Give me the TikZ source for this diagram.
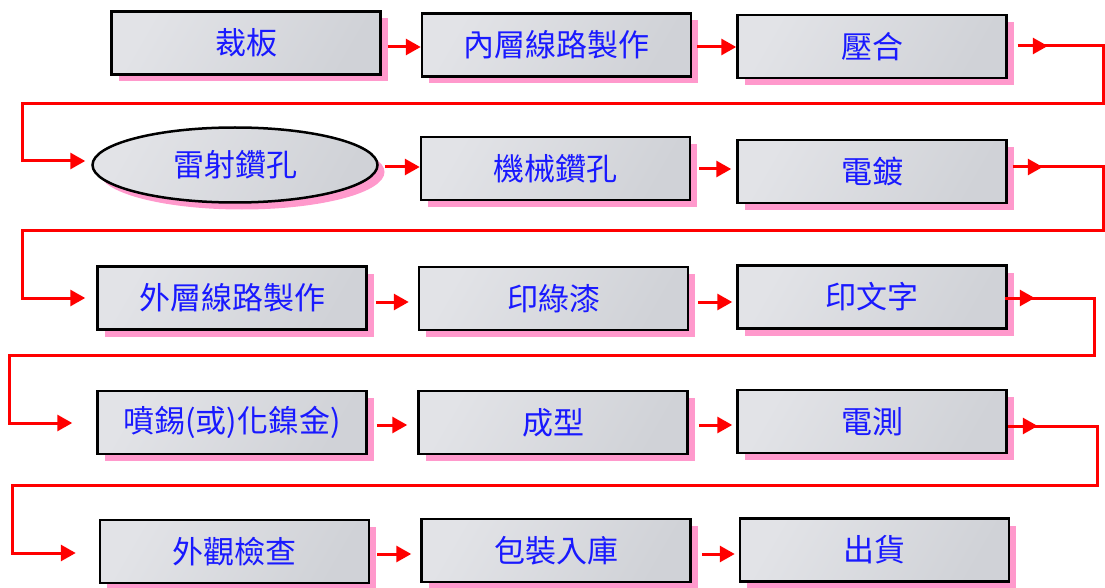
\documentclass[tikz,border=0pt]{standalone}
\usepackage{fontspec}
\newfontfamily\cjk{Noto Sans CJK TC}
\usetikzlibrary{shapes.geometric,shadows,arrows.meta,calc}
\definecolor{marbleD}{RGB}{208,210,215}
\definecolor{marbleL}{RGB}{226,227,231}
\definecolor{shadowpink}{RGB}{255,153,204}
\definecolor{txtblue}{RGB}{25,25,255}
\definecolor{linered}{RGB}{255,0,0}
\begin{document}
\begin{tikzpicture}[x=1pt,y=-1pt,
  box/.style={draw=black, line width=2.5pt, left color=marbleL, right color=marbleD,
    shading angle=60,
    minimum width=269pt, minimum height=63pt, inner sep=0pt,
    font=\cjk\fontsize{31}{31}\selectfont, text=txtblue,
    drop shadow={shadow xshift=7pt, shadow yshift=-7pt, fill=shadowpink, opacity=1}},
  oval/.style={box, ellipse, minimum width=285pt, minimum height=75pt},
  conn/.style={draw=linered, line width=3pt},
  arr/.style={conn, -{Triangle[length=15pt,width=16pt]}}]
\useasboundingbox (0,0) rectangle (1105,588);
% row 1
\node[box] (b1) at (246,43) {裁板};
\node[box] (b2) at (556.5,45) {內層線路製作};
\node[box] (b3) at (872,46.5) {壓合};
% row 2
\node[oval] (e) at (235,165) {雷射鑽孔};
\node[box] (b5) at (555.5,168.5) {機械鑽孔};
\node[box] (b6) at (872,171.5) {電鍍};
% row 3
\node[box] (b7) at (232,298) {外層線路製作};
\node[box] (b8) at (553.5,298.5) {印綠漆};
\node[box] (b9) at (872,297) {印文字};
% row 4
\node[box] (b10) at (232,422.5) {噴錫(或)化鎳金)};
\node[box] (b11) at (553,422.5) {成型};
\node[box] (b12) at (872,421.5) {電測};
% row 5
\node[box] (b13) at (234.5,551.5) {外觀檢查};
\node[box] (b14) at (556,550.5) {包裝入庫};
\node[box] (b15) at (874.5,550) {出貨};
% row 1 connectors
\draw[arr] ([shift={(6,4)}]b1.east) -- ([shift={(0,2)}]b2.west);
\draw[arr] ([shift={(5,2)}]b2.east) -- ([shift={(0,0.5)}]b3.west);
\coordinate (w1s) at ([shift={(10,-0.5)}]b3.east);
\draw[arr] (w1s) -- ++(30,0);
\draw[arr] (w1s) -| (1103,104) -| (22,161) -- ([shift={(-6,-4)}]e.west);
% row 2 connectors
\draw[arr] ([shift={(6,2)}]e.east) -- ([shift={(0,-1.5)}]b5.west);
\draw[arr] ([shift={(8,0.5)}]b5.east) -- ([shift={(-5,-2.5)}]b6.west);
\coordinate (w2s) at ([shift={(5,-4.5)}]b6.east);
\draw[arr] (w2s) -- ++(30,0);
\draw[arr] (w2s) -| (1103,230) -| (22,298) -- ([shift={(-11,0)}]b7.west);
% row 3 connectors
\draw[arr] ([shift={(8,4)}]b7.east) -- ([shift={(-9,3.5)}]b8.west);
\draw[arr] ([shift={(9,3.5)}]b8.east) -- ([shift={(-4,5)}]b9.west);
\coordinate (w3s) at ([shift={(-3,1)}]b9.east);
\draw[arr] (w3s) -- ++(30,0);
\draw[arr] (w3s) -| (1094,355) -| (9,423) -- ([shift={(-24,0.5)}]b10.west);
% row 4 connectors
\draw[arr] ([shift={(9,2.5)}]b10.east) -- ([shift={(-10,2.5)}]b11.west);
\draw[arr] ([shift={(10,2.5)}]b11.east) -- ([shift={(-4,3.5)}]b12.west);
\coordinate (w4s) at ([shift={(0,4.5)}]b12.east);
\draw[arr] (w4s) -- ++(30,0);
\draw[arr] (w4s) -| (1097,485) -| (12,553) -- ([shift={(-23,1.5)}]b13.west);
% row 5 connectors
\draw[arr] ([shift={(7,2.5)}]b13.east) -- ([shift={(-9,3.5)}]b14.west);
\draw[arr] ([shift={(10,3.5)}]b14.east) -- ([shift={(-4,4)}]b15.west);
\end{tikzpicture}
\end{document}
